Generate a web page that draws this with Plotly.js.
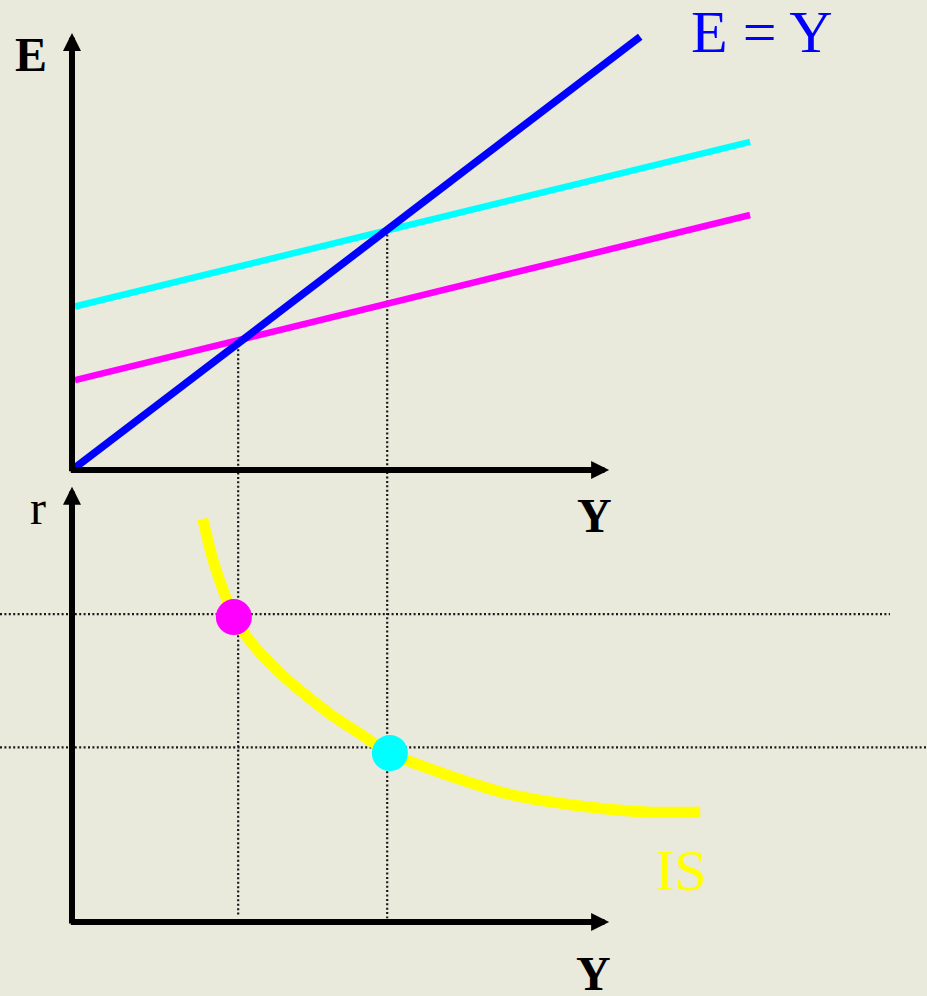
<!DOCTYPE html>
<html>
<head>
<meta charset="utf-8">
<script src="https://cdn.plot.ly/plotly-3.0.1.min.js"></script>
<style>
html,body{margin:0;padding:0;background:#e9e9dc;}
#chart{width:927px;height:996px;}
</style>
</head>
<body>
<div id="chart"></div>
<script>
// ---- Data (economic units) ----
// Top panel: Keynesian cross, Y on x axis, E on y axis
var eyX = [0, 106];            // E = Y line
var eyE = [0, 106];
var ae1X = [0.56, 126.5];      // planned expenditure, low (magenta)
var ae1E = [22.0, 62.4];
var ae2X = [0.56, 126.5];      // planned expenditure, high (cyan)
var ae2E = [40.0, 80.3];

// Equilibrium incomes and where the guide lines start/end
var guideX = [31.0, 58.8];
var guideTopE = [30.6, 58.7];
var guideBottomR = [1.6, 0.9];

// Bottom panel: IS curve, Y on x axis, r on y axis
var isY = [24.4, 26.3, 28.2, 30.2, 32.8, 35.6, 38.8, 42.0, 48.1, 54.3, 59.3, 70.0, 82.3, 94.8, 107.3, 117.2];
var isR = [93.7, 84.2, 77.2, 70.9, 66.0, 61.9, 57.9, 54.4, 48.4, 43.3, 39.3, 34.2, 29.5, 27.0, 25.6, 25.6];

var ptY = [30.2, 59.3];
var ptR = [70.9, 39.3];
var ptColors = ['#ff00ff', '#00ffff'];

var rateR = [71.6, 40.6];       // horizontal guide lines
var rateEndX = [152.6, 159.5];

// Axes extents
var xAxisEnd = 100.2;
var eAxisEnd = 106.9;
var rAxisEnd = 101.2;

// ---- Scales ----
var xRange = [-13.43, 159.5];
var eRange = [-128.7, 115.0];
var rRange = [-17.2, 214.4];

function rToE(r) {
  var f = (r - rRange[0]) / (rRange[1] - rRange[0]);
  return eRange[0] + f * (eRange[1] - eRange[0]);
}

var dotLine = {color: '#1a1a1a', width: 2.2, dash: '2px,2.4px'};
var traces = [];

// vertical guide lines spanning both panels
for (var i = 0; i < guideX.length; i++) {
  traces.push({
    x: [guideX[i], guideX[i]],
    y: [guideTopE[i], rToE(guideBottomR[i])],
    xaxis: 'x', yaxis: 'y',
    mode: 'lines', line: dotLine, hoverinfo: 'skip'
  });
}
// horizontal guide lines
for (var j = 0; j < rateR.length; j++) {
  traces.push({
    x: [xRange[0], rateEndX[j]],
    y: [rateR[j], rateR[j]],
    xaxis: 'x', yaxis: 'y2',
    mode: 'lines', line: dotLine, hoverinfo: 'skip'
  });
}

traces.push({x: ae2X, y: ae2E, xaxis: 'x', yaxis: 'y', mode: 'lines',
  line: {color: '#00ffff', width: 6.5}});
traces.push({x: ae1X, y: ae1E, xaxis: 'x', yaxis: 'y', mode: 'lines',
  line: {color: '#ff00ff', width: 6.5}});
traces.push({x: eyX, y: eyE, xaxis: 'x', yaxis: 'y', mode: 'lines',
  line: {color: '#0000ff', width: 7.5}});

traces.push({x: isY, y: isR, xaxis: 'x', yaxis: 'y2', mode: 'lines',
  line: {color: '#ffff00', width: 11, shape: 'spline', smoothing: 0.9}});

traces.push({x: ptY, y: ptR, xaxis: 'x', yaxis: 'y2', mode: 'markers',
  marker: {size: 36, color: ptColors, line: {width: 0}}});

var serif = 'Liberation Serif, Times New Roman, serif';

function axisArrow(x0, y0, x1, y1, yref) {
  return {
    x: x1, y: y1, ax: x0, ay: y0,
    xref: 'x', yref: yref, axref: 'x', ayref: yref,
    text: '', showarrow: true,
    arrowhead: 2, arrowsize: 0.6, arrowwidth: 6, arrowcolor: '#000000',
    standoff: 0, startstandoff: 0
  };
}

var annotations = [
  axisArrow(0, -0.7, 0, eAxisEnd, 'y'),
  axisArrow(-0.5, 0, xAxisEnd, 0, 'y'),
  axisArrow(0, -0.7, 0, rAxisEnd, 'y2'),
  axisArrow(-0.5, 0, xAxisEnd, 0, 'y2'),
  {x: -7.65, y: 101.7, xref: 'x', yref: 'y', text: '<b>E</b>', showarrow: false,
   font: {family: serif, size: 48, color: '#000'}},
  {x: 128.7, y: 107.2, xref: 'x', yref: 'y', text: 'E = Y', showarrow: false,
   font: {family: serif, size: 60, color: '#0000ff'}},
  {x: 97.4, y: 94.5, xref: 'x', yref: 'y2', text: '<b>Y</b>', showarrow: false,
   font: {family: serif, size: 48, color: '#000'}},
  {x: -6.4, y: 96.5, xref: 'x', yref: 'y2', text: 'r', showarrow: false,
   font: {family: serif, size: 48, color: '#000'}},
  {x: 113.6, y: 11.9, xref: 'x', yref: 'y2', text: 'IS', showarrow: false,
   font: {family: serif, size: 58, color: '#ffff00'}},
  {x: 97.3, y: -12.0, xref: 'x', yref: 'y2', text: '<b>Y</b>', showarrow: false,
   font: {family: serif, size: 48, color: '#000'}}
];

var layout = {
  width: 927, height: 996,
  margin: {l: 0, r: 0, t: 0, b: 0, pad: 0},
  paper_bgcolor: '#e9e9dc', plot_bgcolor: '#e9e9dc',
  showlegend: false,
  xaxis: {range: xRange, visible: false, fixedrange: true},
  yaxis: {range: eRange, visible: false, fixedrange: true},
  yaxis2: {range: rRange, visible: false, overlaying: 'y', fixedrange: true},
  annotations: annotations
};

Plotly.newPlot('chart', traces, layout, {displayModeBar: false, staticPlot: true});
</script>
</body>
</html>
